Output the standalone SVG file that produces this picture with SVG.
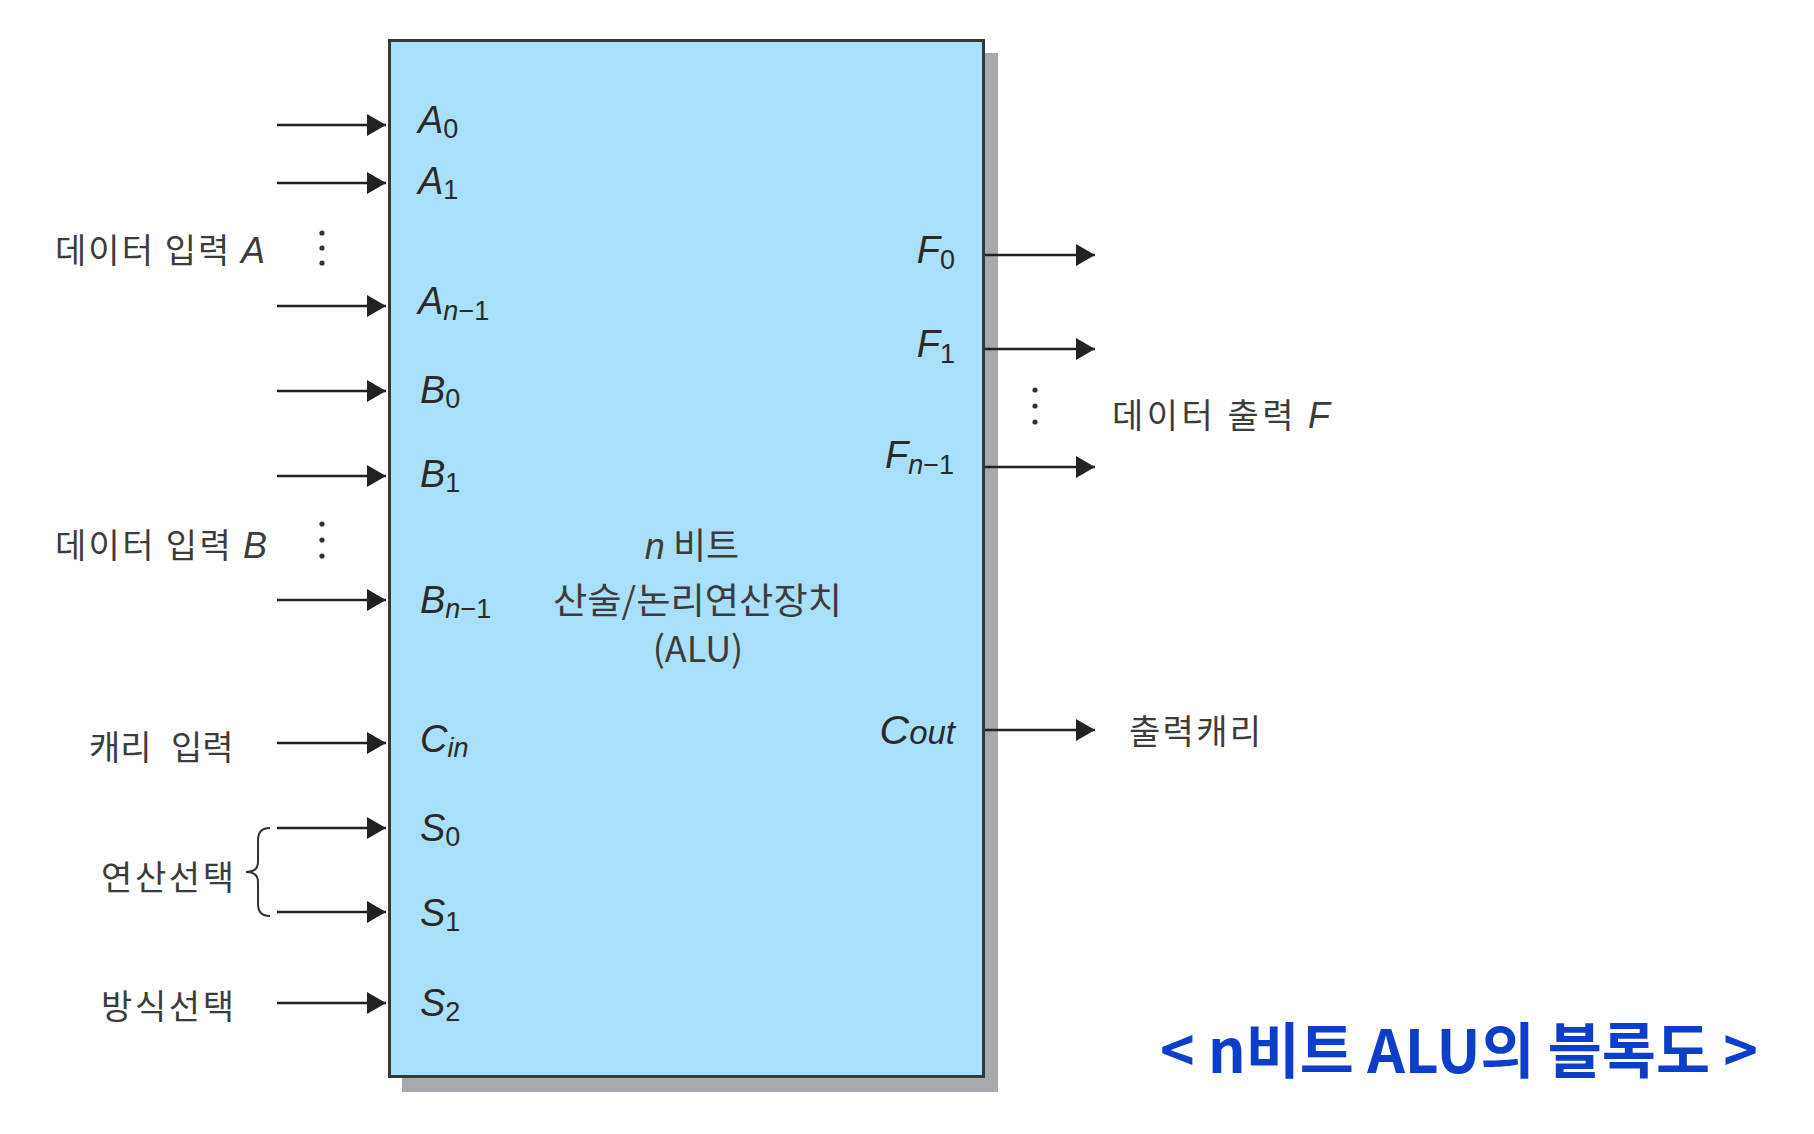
<svg xmlns="http://www.w3.org/2000/svg" width="1814" height="1134" viewBox="0 0 1814 1134">
<style>
.lbl{font-family:"Liberation Sans",Arial,sans-serif;font-style:italic;font-size:38px;fill:#2a2a2a}
.sub{font-size:27px}
.up{font-style:normal}
.kr{font-family:"Noto Sans CJK KR","Noto Sans",sans-serif;font-size:34px;fill:#3c3c3c}
.ctr{font-family:"Noto Sans CJK KR","Noto Sans",sans-serif;font-size:36px;fill:#3c3c3c}
.lat{font-family:"Liberation Sans",Arial,sans-serif}
.conn line{stroke:#222;stroke-width:2.5}
.dot{fill:#333}
</style>
<defs>
<marker id="ah" markerUnits="userSpaceOnUse" markerWidth="20" markerHeight="24" refX="19" refY="11" orient="auto">
<path d="M0,0 L19,11 L0,22 z" fill="#222"/>
</marker>
</defs>
<rect width="1814" height="1134" fill="#ffffff"/>

<g id="alu">
<rect x="402" y="53" width="596" height="1039" fill="#a8a9ad"/>
<rect x="389.5" y="40.5" width="594" height="1036" fill="#a9e0f9" stroke="#383838" stroke-width="3"/>
<text class="ctr" x="692" y="559" text-anchor="middle"><tspan class="lat" font-style="italic" font-size="36">n</tspan> 비트</text>
<text class="ctr" x="553" y="614" textLength="289" lengthAdjust="spacingAndGlyphs">산술/논리연산장치</text>
<text class="ctr" x="698" y="662" text-anchor="middle">(ALU)</text>
</g>

<g id="port-labels">
<text class="lbl" x="418" y="133">A<tspan class="sub up" dy="5">0</tspan></text>
<text class="lbl" x="418" y="194">A<tspan class="sub up" dy="5">1</tspan></text>
<text class="lbl" x="418" y="314">A<tspan class="sub" dy="6">n</tspan><tspan class="sub up">−1</tspan></text>
<text class="lbl" x="420" y="403">B<tspan class="sub up" dy="5">0</tspan></text>
<text class="lbl" x="420" y="487">B<tspan class="sub up" dy="5">1</tspan></text>
<text class="lbl" x="420" y="613">B<tspan class="sub" dy="5">n</tspan><tspan class="sub up">−1</tspan></text>
<text class="lbl" x="420" y="752">C<tspan class="sub" dy="5">in</tspan></text>
<text class="lbl" x="420" y="841">S<tspan class="sub up" dy="5">0</tspan></text>
<text class="lbl" x="420" y="926">S<tspan class="sub up" dy="5">1</tspan></text>
<text class="lbl" x="420" y="1016">S<tspan class="sub up" dy="5">2</tspan></text>
<text class="lbl" x="955" y="263" text-anchor="end">F<tspan class="sub up" dy="6">0</tspan></text>
<text class="lbl" x="955" y="357" text-anchor="end">F<tspan class="sub up" dy="6">1</tspan></text>
<text class="lbl" x="954" y="468" text-anchor="end">F<tspan class="sub" dy="6">n</tspan><tspan class="sub up">−1</tspan></text>
<text class="lbl" x="955" y="744" text-anchor="end"><tspan font-size="41">C</tspan><tspan font-size="33">out</tspan></text>
</g>

<g id="group-labels">
<text class="kr" x="55" y="263" textLength="210" lengthAdjust="spacing">데이터 입력 <tspan class="lat" font-style="italic" font-size="36">A</tspan></text>
<text class="kr" x="55" y="558" textLength="212" lengthAdjust="spacing">데이터 입력 <tspan class="lat" font-style="italic" font-size="36">B</tspan></text>
<text class="kr" x="89" y="760">캐리<tspan x="171">입력</tspan></text>
<text class="kr" x="101" y="890" textLength="133" lengthAdjust="spacing">연산선택</text>
<text class="kr" x="101" y="1019" textLength="133" lengthAdjust="spacing">방식선택</text>
<text class="kr" x="1112" y="428" textLength="218" lengthAdjust="spacing">데이터 출력 <tspan class="lat" font-style="italic" font-size="36">F</tspan></text>
<text class="kr" x="1129" y="744" textLength="132" lengthAdjust="spacing">출력캐리</text>
<circle class="dot" cx="322" cy="233" r="2.6"/>
<circle class="dot" cx="322" cy="248" r="2.6"/>
<circle class="dot" cx="322" cy="263" r="2.6"/>
<circle class="dot" cx="322" cy="524" r="2.6"/>
<circle class="dot" cx="322" cy="540" r="2.6"/>
<circle class="dot" cx="322" cy="556" r="2.6"/>
<circle class="dot" cx="1035" cy="390" r="2.6"/>
<circle class="dot" cx="1035" cy="406" r="2.6"/>
<circle class="dot" cx="1035" cy="422" r="2.6"/>
<path d="M270,828 Q258,828 258,840 L258,862 Q258,872 246,872 Q258,872 258,882 L258,904 Q258,916 270,916" fill="none" stroke="#333" stroke-width="2"/>
</g>

<g id="connectors" class="conn">
<line x1="277" y1="125" x2="386" y2="125" marker-end="url(#ah)"/>
<line x1="277" y1="183" x2="386" y2="183" marker-end="url(#ah)"/>
<line x1="277" y1="306" x2="386" y2="306" marker-end="url(#ah)"/>
<line x1="277" y1="391" x2="386" y2="391" marker-end="url(#ah)"/>
<line x1="277" y1="476" x2="386" y2="476" marker-end="url(#ah)"/>
<line x1="277" y1="600" x2="386" y2="600" marker-end="url(#ah)"/>
<line x1="277" y1="743" x2="386" y2="743" marker-end="url(#ah)"/>
<line x1="277" y1="828" x2="386" y2="828" marker-end="url(#ah)"/>
<line x1="277" y1="912" x2="386" y2="912" marker-end="url(#ah)"/>
<line x1="277" y1="1003" x2="386" y2="1003" marker-end="url(#ah)"/>
<line x1="985" y1="255" x2="1095" y2="255" marker-end="url(#ah)"/>
<line x1="985" y1="349" x2="1095" y2="349" marker-end="url(#ah)"/>
<line x1="985" y1="467" x2="1095" y2="467" marker-end="url(#ah)"/>
<line x1="985" y1="730" x2="1095" y2="730" marker-end="url(#ah)"/>
</g>

<g id="title">
<text x="1160" y="1073" textLength="598" lengthAdjust="spacingAndGlyphs" style="font-family:'Noto Sans CJK KR','Noto Sans',sans-serif;font-weight:700;font-size:60px;fill:#0b3ec9">&lt; n비트 ALU의 블록도 &gt;</text>
</g>
</svg>
